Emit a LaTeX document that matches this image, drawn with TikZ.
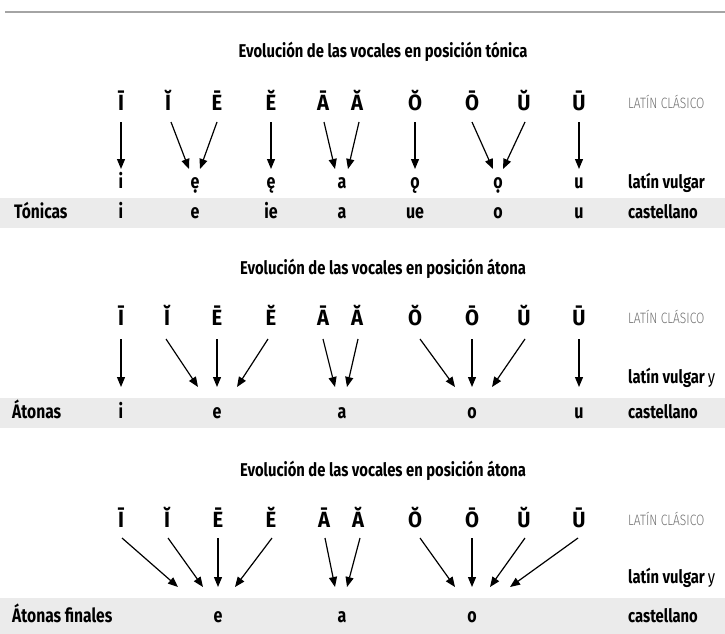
\documentclass[tikz,border=0pt]{standalone}
\usepackage{fontspec}
\setmainfont{Fira Sans}[FakeStretch=0.8]
\newfontfamily\lightfam{Fira Sans Light}[FakeStretch=0.8]
\newfontfamily\latfam{Fira Sans}[FakeStretch=0.92]
\usetikzlibrary{arrows.meta,calc}
\definecolor{bandgray}{HTML}{EBEBEB}
\definecolor{rulegray}{HTML}{A4A4A4}
\definecolor{clasgray}{HTML}{707070}
\begin{document}
\begin{tikzpicture}[x=1pt,y=-1pt,
  lat/.style={font=\fontsize{22}{22}\selectfont\latfam\bfseries, anchor=base, inner sep=0pt},
  vow/.style={font=\fontsize{20}{20}\selectfont\bfseries, anchor=base, inner sep=0pt},
  ttl/.style={font=\fontsize{18.5}{18.5}\selectfont\bfseries, anchor=base, inner sep=0pt},
  lbl/.style={font=\fontsize{18.5}{18.5}\selectfont\bfseries, anchor=base west, inner sep=0pt},
  cls/.style={font=\fontsize{15}{15}\selectfont\lightfam, text=clasgray, anchor=base west, inner sep=0pt},
  rowname/.style={font=\fontsize{19.5}{19.5}\selectfont\bfseries, anchor=base west, inner sep=0pt},
  arr/.style={-{Triangle[length=10pt,width=8pt]}, line width=1.2pt},
  band/.style={fill=bandgray, draw=none}]
\useasboundingbox (0,0) rectangle (725,634);
\fill[white] (0,0) rectangle (725,634);
% top rule
\draw[rulegray, line width=2.5pt] (5,12) -- (725,12);

% ================= Section 1 =================
\fill[band] (0,198) rectangle (725,228);
\node[ttl] (t1) at (383,57) {Evolución de las vocales en posición tónica};
\foreach \n/\x/\t in {a/121/Ī, b/168/Ĭ, c/217/Ē, d/271/Ĕ, e/323/Ā, f/357/Ă, g/415/Ŏ, h/472/Ō, i/524/Ŭ, j/579/Ū}
  \node[lat] (A\n) at (\x,110) {\t};
\node[cls] (cls1) at (628,108) {LATÍN CLÁSICO};
\foreach \n/\x/\t in {a/121/i, b/195/ẹ, c/271/ę, d/342/a, e/415/ǫ, f/498/ọ, g/579/u}
  \node[vow] (V\n) at (\x,188) {\t};
\node[lbl] (lv1) at (628,188) {latín vulgar};
\node[rowname] (r1) at (14,218) {Tónicas};
\foreach \n/\x/\t in {a/121/i, b/195/e, c/271/ie, d/342/a, e/415/ue, f/498/o, g/579/u}
  \node[vow] (C\n) at (\x,218) {\t};
\node[lbl] (cs1) at (628,218) {castellano};
\foreach \n/\xs/\xe in {a/121/121, b/171/189, c/217/200, d/271/271, e/324/335, f/359/348, g/415/415, h/472/493, i/525/503, j/579/579}{
  \coordinate (S1\n) at (\xs,122);
  \coordinate (E1\n) at (\xe,169);
  \draw[arr] (S1\n) -- (E1\n);
}

% ================= Section 2 =================
\fill[band] (0,398) rectangle (725,428);
\node[ttl] (t2) at (383,274) {Evolución de las vocales en posición átona};
\foreach \n/\x/\t in {a/121/Ī, b/167/Ĭ, c/217/Ē, d/271/Ĕ, e/323/Ā, f/357/Ă, g/415/Ŏ, h/472/Ō, i/524/Ŭ, j/579/Ū}
  \node[lat] (B\n) at (\x,325) {\t};
\node[cls] (cls2) at (628,323) {LATÍN CLÁSICO};
\node[lbl] (lv2) at (628,383) {latín vulgar\,\mdseries y};
\node[rowname] (r2) at (12,418) {Átonas};
\foreach \n/\x/\t in {a/121/i, b/217/e, c/342/a, d/472/o, e/579/u}
  \node[vow] (D\n) at (\x,418) {\t};
\node[lbl] (cs2) at (628,418) {castellano};
\foreach \n/\xs/\xe in {a/121/121, b/166/198, c/217/217, d/268/237, e/323/335, f/358/347, g/420/455, h/472/472, i/525/492, j/579/579}{
  \coordinate (S2\n) at (\xs,339);
  \coordinate (E2\n) at (\xe,387);
  \draw[arr] (S2\n) -- (E2\n);
}

% ================= Section 3 =================
\fill[band] (0,598) rectangle (725,634);
\node[ttl] (t3) at (383,476) {Evolución de las vocales en posición átona};
\foreach \n/\x/\t in {a/121/Ī, b/167/Ĭ, c/218/Ē, d/271/Ĕ, e/324/Ā, f/358/Ă, g/415/Ŏ, h/472/Ō, i/524/Ŭ, j/579/Ū}
  \node[lat] (F\n) at (\x,527) {\t};
\node[cls] (cls3) at (628,525) {LATÍN CLÁSICO};
\node[lbl] (lv3) at (628,583) {latín vulgar\,\mdseries y};
\node[rowname] (r3) at (12,622) {Átonas finales};
\foreach \n/\x/\t in {a/218/e, b/342/a, c/472/o}
  \node[vow] (G\n) at (\x,622) {\t};
\node[lbl] (cs3) at (628,622) {castellano};
\foreach \n/\xs/\xe in {a/122/178, b/168/203, c/218/218, d/272/235, e/325/335, f/360/347, g/420/455, h/472/472, i/525/490, j/578/510}{
  \coordinate (S3\n) at (\xs,538);
  \coordinate (E3\n) at (\xe,587);
  \draw[arr] (S3\n) -- (E3\n);
}
\end{tikzpicture}
\end{document}
